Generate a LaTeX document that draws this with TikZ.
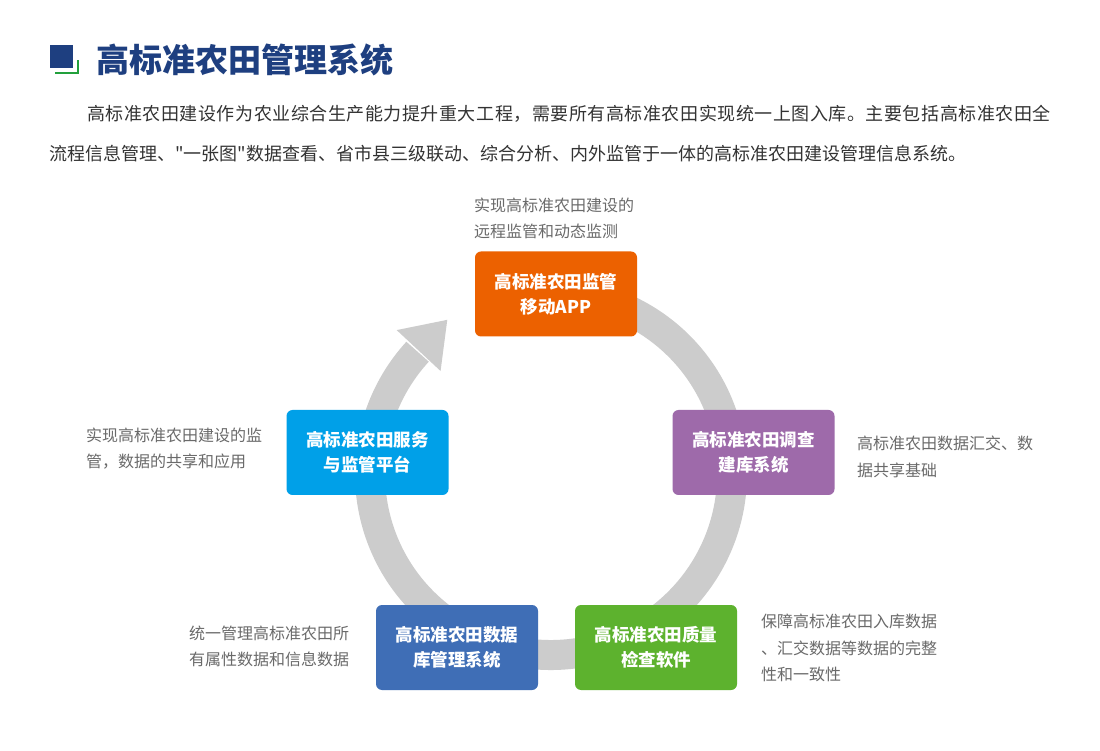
\documentclass[tikz,border=0pt]{standalone}
\usepackage{fontspec}
\setmainfont{Noto Sans CJK SC}
\usetikzlibrary{calc}
\definecolor{titleblue}{HTML}{1E3F80}
\definecolor{iconblue}{HTML}{1E3F80}
\definecolor{icongreen}{HTML}{22A03C}
\definecolor{paratext}{HTML}{333333}
\definecolor{notetext}{HTML}{6A6A6A}
\definecolor{ringgray}{HTML}{CCCCCC}
\definecolor{corange}{HTML}{EC6100}
\definecolor{cpurple}{HTML}{9E6AAA}
\definecolor{ccyan}{HTML}{00A0E8}
\definecolor{cblue}{HTML}{3F6EB6}
\definecolor{cgreen}{HTML}{5DB22E}
\tikzset{
  sysbox/.style={fill=#1, rounded corners=6pt, minimum width=162pt, minimum height=85pt,
    inner sep=0pt, text=white, align=center, font=\fontsize{17.5}{25}\selectfont\bfseries},
  note/.style={anchor=west, inner sep=0pt, align=left, text=notetext,
    font=\fontsize{16}{26.5}\selectfont},
  paraline/.style={anchor=west, inner sep=0pt, text=paratext, font=\fontsize{18}{22}\selectfont},
  ringline/.style={draw=ringgray, line width=30pt},
}
\begin{document}
\begin{tikzpicture}[x=1pt,y=1pt]
\useasboundingbox (0,0) rectangle (1100,750);
\fill[white] (0,0) rectangle (1100,750);
% title
\fill[iconblue] (50,682) rectangle (73,705);
\draw[icongreen, line width=2pt] (55,677) -- (78,677) -- (78,690);
\node[anchor=west, inner sep=0pt, text=titleblue, font=\fontsize{33}{36}\selectfont\bfseries] (title) at (96,690) {高标准农田管理系统};
% paragraph
\node[paraline] (p1) at (87,636) {\addfontfeatures{LetterSpace=3}高标准农田建设作为农业综合生产能力提升重大工程，需要所有高标准农田实现统一上图入库。主要包括高标准农田全};
\node[paraline] (p2) at (49,596) {\addfontfeatures{Ligatures=TeXOff}流程信息管理、"一张图"数据查看、省市县三级联动、综合分析、内外监管于一体的高标准农田建设管理信息系统。};
% ring
\coordinate (c) at (551,276);
\draw[ringline] ($(c)+(100:181pt)$) arc[start angle=100, end angle=-222.5, radius=181pt];
\fill[ringgray] ($(c)+(137:211pt)$) -- ($(c)+(137:181pt)+(47:42pt)$) -- ($(c)+(137:151pt)$) -- cycle;
% boxes
\node[sysbox=corange] (app) at (556,456) {高标准农田监管\\移动APP};
\node[sysbox=cpurple] (survey) at (753.5,297.5) {高标准农田调查\\建库系统};
\node[sysbox=ccyan] (service) at (367.5,297.5) {高标准农田服务\\与监管平台};
\node[sysbox=cblue] (db) at (457,102.5) {高标准农田数据\\库管理系统};
\node[sysbox=cgreen] (check) at (656,102.5) {高标准农田质量\\检查软件};
% notes
\node[note] (n1) at (474,531.5) {实现高标准农田建设的\\远程监管和动态监测};
\node[note] (n2) at (86,301.5) {实现高标准农田建设的监\\管，数据的共享和应用};
\node[note] (n3) at (857,293) {高标准农田数据汇交、数\\据共享基础};
\node[note] (n4) at (189,103.5) {统一管理高标准农田所\\有属性数据和信息数据};
\node[note] (n5) at (761,102) {保障高标准农田入库数据\\、汇交数据等数据的完整\\性和一致性};
\end{tikzpicture}
\end{document}
